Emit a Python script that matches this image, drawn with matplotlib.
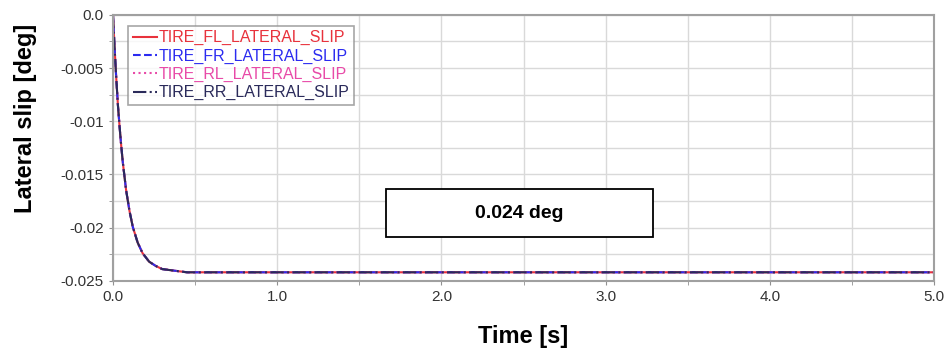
import matplotlib.pyplot as plt
from matplotlib.patches import Rectangle
from matplotlib.ticker import MultipleLocator

# time samples [s] and lateral slip [deg]
time = [0.0, 0.01, 0.02, 0.03, 0.04, 0.05, 0.06, 0.08, 0.10, 0.12, 0.15, 0.18,
        0.22, 0.26, 0.30, 0.35, 0.40, 0.45, 0.5, 1.0, 1.5, 2.0, 2.5, 3.0, 3.5,
        4.0, 4.5, 5.0]
slip_fl = [0.0, -0.0032, -0.0060, -0.0085, -0.0105, -0.0123, -0.0139, -0.0165,
           -0.0184, -0.0199, -0.0214, -0.0224, -0.0232, -0.0236, -0.0239,
           -0.0240, -0.0241, -0.0242, -0.0242, -0.0242, -0.0242, -0.0242,
           -0.0242, -0.0242, -0.0242, -0.0242, -0.0242, -0.0242]
slip_fr = list(slip_fl)
slip_rl = list(slip_fl)
slip_rr = list(slip_fl)

series = [
    ('TIRE_FL_LATERAL_SLIP', slip_fl, '#e8323c', '-'),
    ('TIRE_FR_LATERAL_SLIP', slip_fr, '#2b2bf0', '--'),
    ('TIRE_RL_LATERAL_SLIP', slip_rl, '#e84aa8', ':'),
    ('TIRE_RR_LATERAL_SLIP', slip_rr, '#2a2a5a', '-.'),
]

plt.rcParams['font.family'] = ['Liberation Sans', 'DejaVu Sans']

fig = plt.figure(figsize=(9.52, 3.55), dpi=100)
ax = fig.add_axes([0.1187, 0.209, 0.8625, 0.749])

for name, vals, color, ls in series:
    ax.plot(time, vals, color=color, linestyle=ls, linewidth=1.5, label=name)

ax.set_xlim(0, 5)
ax.set_ylim(-0.025, 0)
ax.xaxis.set_major_locator(MultipleLocator(1.0))
ax.xaxis.set_minor_locator(MultipleLocator(0.5))
ax.yaxis.set_major_locator(MultipleLocator(0.005))
ax.yaxis.set_minor_locator(MultipleLocator(0.0025))
ax.set_xticklabels([f'{v:.1f}' for v in ax.get_xticks()])
ax.set_yticks([0, -0.005, -0.01, -0.015, -0.02, -0.025])
ax.set_yticklabels(['0.0', '-0.005', '-0.01', '-0.015', '-0.02', '-0.025'])

ax.grid(True, which='both', color='#d9d9d9', linewidth=1)
ax.set_axisbelow(True)
for sp in ax.spines.values():
    sp.set_color('#a0a0a0')
    sp.set_linewidth(1.5)
ax.tick_params(which='both', colors='#909090', labelcolor='#333333',
               labelsize=11, length=3)

ax.set_xlabel('Time [s]', fontsize=17, fontweight='bold', labelpad=15)
ax.set_ylabel('Lateral slip [deg]', fontsize=17, fontweight='bold')
ax.yaxis.set_label_coords(-0.093, 0.61)

leg = ax.legend(loc='upper left', bbox_to_anchor=(0.009, 0.99), fontsize=11.5,
                frameon=True, fancybox=False, handlelength=1.5,
                handletextpad=0.1, labelspacing=0.2, borderpad=0.3)
leg.get_frame().set_edgecolor('#909090')
leg.get_frame().set_linewidth(1.2)
for txt, (_, _, color, _) in zip(leg.get_texts(), series):
    txt.set_color(color)

ax.add_patch(Rectangle((1.66, -0.0209), 1.63, 0.0045, facecolor='white',
                       edgecolor='black', linewidth=1.3, zorder=5))
ax.text(2.475, -0.01865, '0.024 deg', ha='center', va='center',
        fontsize=14, fontweight='bold', zorder=6)

fig.savefig('out.png', dpi=100)
